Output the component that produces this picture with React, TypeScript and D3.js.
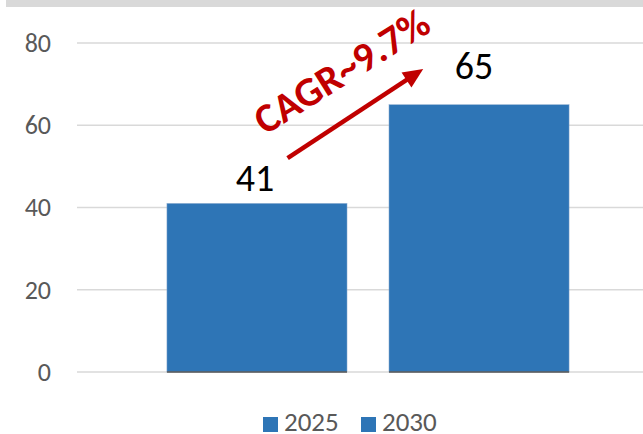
import React from "react";
import * as d3 from "d3";

const categories = ["2025", "2030"];
const values = [41, 65];
const yTicks = [0, 20, 40, 60, 80];
const annotation = "CAGR~9.7%";

const W = 643;
const H = 434;
const FONT = "Carlito, Calibri, 'Liberation Sans', 'Noto Sans', sans-serif";

export default function App() {
  const y = d3.scaleLinear().domain([0, 80]).range([372, 43]);
  const x = d3.scaleBand().domain(categories).range([77, 659]).paddingInner(0.189).paddingOuter(0.405);
  const bw = x.bandwidth();
  const barColor = "#2E75B6";
  const labelDx = [-2, -5];
  const labelDy = [12, 26];
  const p0: [number, number] = [(x("2025") as number) + bw * 0.67, y(values[0] + 11)];
  const tip: [number, number] = [(x("2030") as number) + bw * 0.19, y(values[1] + 8.7)];
  const ang = Math.atan2(tip[1] - p0[1], tip[0] - p0[0]);
  const hl = 20;
  const hw = 9;
  const base: [number, number] = [tip[0] - hl * Math.cos(ang), tip[1] - hl * Math.sin(ang)];
  const nx = -Math.sin(ang);
  const ny = Math.cos(ang);
  const head = d3.line()([
    tip,
    [base[0] + nx * hw, base[1] + ny * hw],
    [base[0] - nx * hw, base[1] - ny * hw],
  ]) + "Z";
  return (
    <svg width={W} height={H} style={{ position: "absolute", left: 0, top: 0, background: "#fff" }}>
      <rect x={6} y={0} width={W - 6} height={7} fill="#d9d9d9" />
      {yTicks.map((t) => (
        <g key={t}>
          <line x1={77} x2={W} y1={y(t)} y2={y(t)} stroke="#d9d9d9" strokeWidth={1.5} />
          <text x={51} y={y(t)} dy="0.34em" textAnchor="end" fontFamily={FONT} fontSize={26} fill="#595959">{t}</text>
        </g>
      ))}
      {categories.map((c, i) => (
        <g key={c}>
          <rect x={x(c)} y={y(values[i])} width={bw} height={y(0) - y(values[i])} fill={barColor} stroke="#8faed0" strokeWidth={0.5} />
          <line x1={x(c)} x2={(x(c) as number) + bw} y1={y(0)} y2={y(0)} stroke="#595959" strokeWidth={1.5} />
          <text x={(x(c) as number) + bw / 2 + labelDx[i]} y={y(values[i]) - labelDy[i]} textAnchor="middle" fontFamily={FONT} fontSize={38} fill="#000">{values[i]}</text>
        </g>
      ))}
      <line x1={p0[0]} y1={p0[1]} x2={base[0] + 2 * Math.cos(ang)} y2={base[1] + 2 * Math.sin(ang)} stroke="#C00000" strokeWidth={4.5} />
      <path d={head} fill="#C00000" />
      <text transform={`translate(349,83) rotate(-32)`} textAnchor="middle" fontFamily={FONT} fontWeight="bold" fontSize={41} fill="#C00000">{annotation}</text>
      {categories.map((c, i) => (
        <g key={"lg" + c} transform={`translate(${263 + i * 98},417)`}>
          <rect x={0} y={0} width={15} height={15} fill={barColor} />
          <text x={21} y={14} fontFamily={FONT} fontSize={27} fill="#595959">{c}</text>
        </g>
      ))}
    </svg>
  );
}
